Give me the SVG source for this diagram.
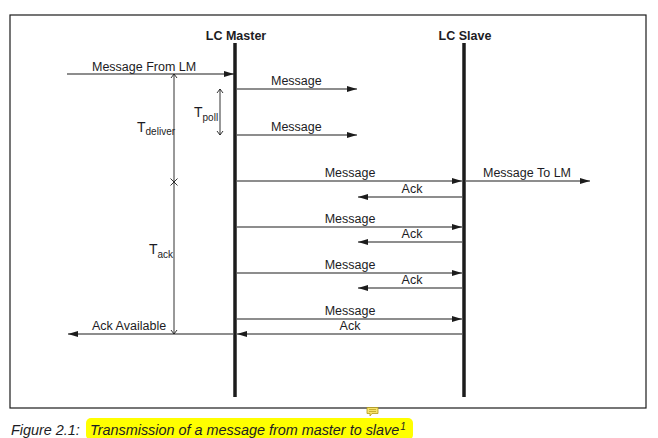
<svg xmlns="http://www.w3.org/2000/svg" width="658" height="438" viewBox="0 0 658 438">
<style>
.t{font-family:"Liberation Sans",Arial,sans-serif;font-size:12.5px;fill:#1c1c24}
.b{font-weight:bold}
.m{text-anchor:middle}
.big{font-size:14px}
.sub{font-size:10px}
.cap{font-family:"Liberation Sans",Arial,sans-serif;font-style:italic;font-size:14.4px;fill:#1c1c24}
.ln{stroke:#1c1c1c;stroke-width:1.2;fill:none}
.life{stroke:#1c1c1c;stroke-width:3.5}
.thin{stroke:#1c1c1c;stroke-width:0.9;fill:none}
</style>
<defs>
<marker id="ah" markerUnits="userSpaceOnUse" markerWidth="11" markerHeight="8" refX="10" refY="3" orient="auto">
<path d="M0,0 L10,3 L0,6 Z" fill="#1c1c1c"/>
</marker>
</defs>
<rect x="10" y="15" width="636" height="393" fill="#fff" stroke="#1c1c1c" stroke-width="1.2"/>
<g id="master">
<line class="life" x1="235" y1="43" x2="235" y2="397"/>
<text class="t b m" x="236" y="40">LC Master</text>
</g>
<g id="slave">
<line class="life" x1="464" y1="43" x2="464" y2="397"/>
<text class="t b m" x="465" y="40">LC Slave</text>
</g>
<g id="connectors">
<line class="ln" x1="67" y1="74" x2="234" y2="74" marker-end="url(#ah)"/>
<line class="ln" x1="237" y1="89" x2="357" y2="89" marker-end="url(#ah)"/>
<line class="ln" x1="237" y1="135" x2="357" y2="135" marker-end="url(#ah)"/>
<line class="ln" x1="237" y1="181" x2="462" y2="181" marker-end="url(#ah)"/>
<line class="ln" x1="466" y1="181" x2="590" y2="181" marker-end="url(#ah)"/>
<line class="ln" x1="462" y1="197" x2="358" y2="197" marker-end="url(#ah)"/>
<line class="ln" x1="237" y1="227" x2="462" y2="227" marker-end="url(#ah)"/>
<line class="ln" x1="462" y1="242" x2="358" y2="242" marker-end="url(#ah)"/>
<line class="ln" x1="237" y1="273" x2="462" y2="273" marker-end="url(#ah)"/>
<line class="ln" x1="462" y1="288" x2="358" y2="288" marker-end="url(#ah)"/>
<line class="ln" x1="237" y1="319" x2="462" y2="319" marker-end="url(#ah)"/>
<line class="ln" x1="462" y1="334" x2="237" y2="334" marker-end="url(#ah)"/>
<line class="ln" x1="233" y1="334" x2="68" y2="334" marker-end="url(#ah)"/>
<!-- T_deliver / T_ack -->
<line class="thin" x1="174" y1="74" x2="174" y2="334"/>
<path class="thin" d="M171,78 L174,74 L177,78"/>
<path class="thin" d="M171,330 L174,334 L177,330"/>
<path class="thin" d="M170.5,178.5 L177.5,185.5 M177.5,178.5 L170.5,185.5"/>
<!-- T_poll -->
<line class="thin" x1="220" y1="89" x2="220" y2="135"/>
<path class="thin" d="M217,93 L220,89 L223,93"/>
<path class="thin" d="M217,131 L220,135 L223,131"/>
</g>
<g id="labels">
<text class="t" x="92" y="71">Message From LM</text>
<text class="t" x="271" y="85">Message</text>
<text class="t" x="271" y="131">Message</text>
<text class="t m" x="350" y="177">Message</text>
<text class="t" x="483" y="177">Message To LM</text>
<text class="t m" x="412" y="193">Ack</text>
<text class="t m" x="350" y="223">Message</text>
<text class="t m" x="412" y="238">Ack</text>
<text class="t m" x="350" y="269">Message</text>
<text class="t m" x="412" y="284">Ack</text>
<text class="t m" x="350" y="315">Message</text>
<text class="t m" x="350" y="330">Ack</text>
<text class="t" x="92" y="330">Ack Available</text>
<text class="t big" x="137" y="132">T<tspan class="sub" dy="3">deliver</tspan></text>
<text class="t big" x="194" y="117">T<tspan class="sub" dy="4">poll</tspan></text>
<text class="t big" x="149" y="254">T<tspan class="sub" dy="4">ack</tspan></text>
</g>
<g id="caption">
<rect x="86" y="418" width="327" height="22" rx="5" fill="#ffff00"/>
<text class="cap" x="11" y="435">Figure 2.1:</text>
<text class="cap" x="90" y="435">Transmission of a message from master to slave<tspan font-size="10" dx="1" dy="-5">1</tspan></text>
<path d="M367,407.5 h11 v6 h-6 l-2,2.5 v-2.5 h-3 Z" fill="#f7e36a" stroke="#b39a1a" stroke-width="0.8"/>
<path d="M369,409.5 h7 M369,411.5 h7" stroke="#b39a1a" stroke-width="0.7"/>
</g>
</svg>
